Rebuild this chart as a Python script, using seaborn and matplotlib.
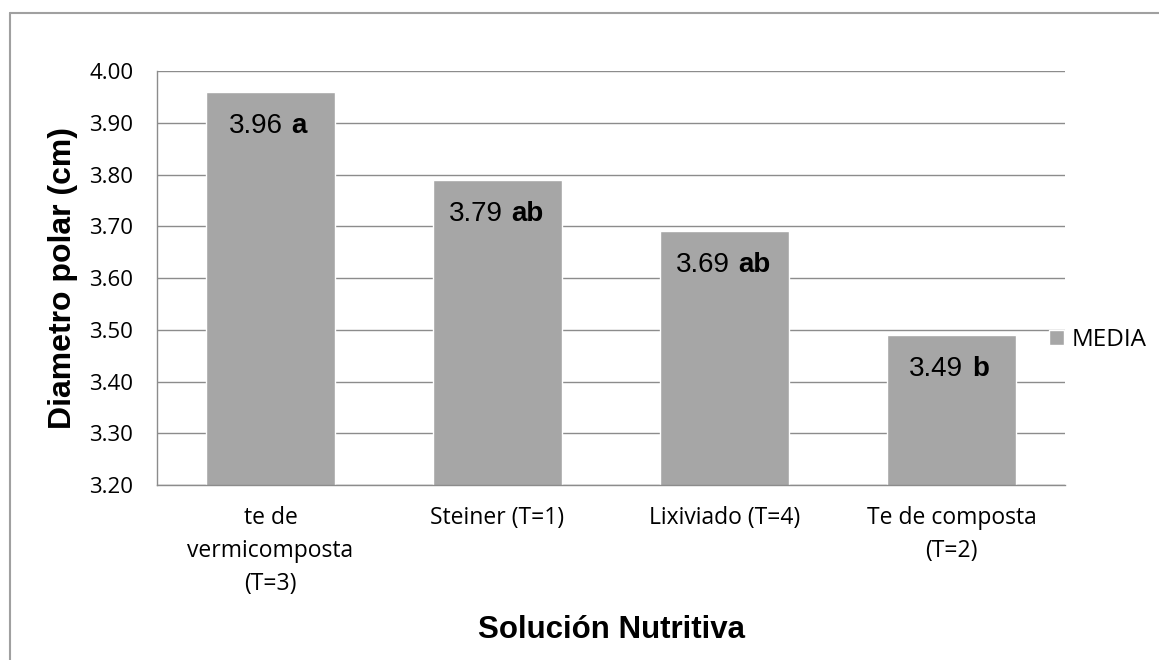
import pandas as pd
import numpy as np
import seaborn as sns
import matplotlib.pyplot as plt
from matplotlib.patches import Patch
from matplotlib.lines import Line2D

# data
soluciones = ["te de\nvermicomposta\n(T=3)", "Steiner (T=1)", "Lixiviado (T=4)", "Te de composta\n(T=2)"]
medias = [3.96, 3.79, 3.69, 3.49]
letras = ["a", "ab", "ab", "b"]
serie = "MEDIA"

df = pd.DataFrame({"solucion": soluciones, "media": medias})

sns.set_style("white")
plt.rcParams['font.family'] = ['Liberation Sans', 'DejaVu Sans']
plt.rcParams['text.color'] = 'black'
plt.rcParams['axes.labelcolor'] = 'black'
plt.rcParams['xtick.color'] = 'black'
plt.rcParams['ytick.color'] = 'black'

calibri_like = ['Open Sans', 'DejaVu Sans']

fig = plt.figure(figsize=(11.59, 6.60), dpi=100)
ax = fig.add_axes([157 / 1159, 1 - 485 / 660, (1065 - 157) / 1159, (485 - 71) / 660])

bar_color = "#A6A6A6"
sns.barplot(data=df, x="solucion", y="media", color=bar_color, saturation=1,
            width=0.57, ax=ax)

yt = np.round(np.arange(3.2, 4.001, 0.1), 2)
ax.set_ylim(3.2, 4.0)
ax.set_yticks(yt)
ax.set_yticklabels([f"{v:.2f}" for v in yt], fontsize=16, family=calibri_like)
ax.set_xticks(range(len(soluciones)))
ax.set_xticklabels(soluciones, fontsize=16.5, family=calibri_like, linespacing=1.5)
ax.tick_params(axis='x', length=0, pad=15)
ax.tick_params(axis='y', length=0, pad=17)

ax.grid(axis='y', color="#8C8C8C", linewidth=1)
ax.set_axisbelow(True)
for s in ["top", "right"]:
    ax.spines[s].set_visible(False)
for s in ["left", "bottom"]:
    ax.spines[s].set_color("#8C8C8C")
    ax.spines[s].set_linewidth(1)

# value labels: number + bold letter inside each bar
for i, (v, l) in enumerate(zip(medias, letras)):
    dx = 12 if len(l) == 1 else 5
    ax.annotate(f"{v:.2f}", xy=(i, v), xytext=(dx, -34), textcoords="offset pixels",
                ha="right", va="center", fontsize=20)
    ax.annotate(l, xy=(i, v), xytext=(dx + 9, -34), textcoords="offset pixels",
                ha="left", va="center", fontsize=20, fontweight="bold")

ax.set_xlabel("Solución Nutritiva", fontsize=22.5, fontweight="bold")
ax.set_ylabel("Diametro polar (cm)", fontsize=23, fontweight="bold")
ax.xaxis.set_label_coords(0.5, -0.313)
ax.yaxis.set_label_coords(-0.087, 0.5)

fig.legend(handles=[Patch(facecolor=bar_color, label=serie)], loc="center left",
           bbox_to_anchor=(1049 / 1159, 1 - 340 / 660), frameon=False,
           prop={'family': calibri_like, 'size': 17.5},
           handlelength=0.62, handleheight=0.62, handletextpad=0.33,
           borderpad=0, borderaxespad=0)

# outer chart frame (left and top visible)
fx = 9.5 / 1159
fy = 1 - 13 / 660
fig.add_artist(Line2D([fx, fx], [0, fy], color="#A0A0A0", linewidth=1.5, transform=fig.transFigure))
fig.add_artist(Line2D([fx, 1], [fy, fy], color="#A0A0A0", linewidth=1.5, transform=fig.transFigure))

plt.savefig("out.png", dpi=100)
